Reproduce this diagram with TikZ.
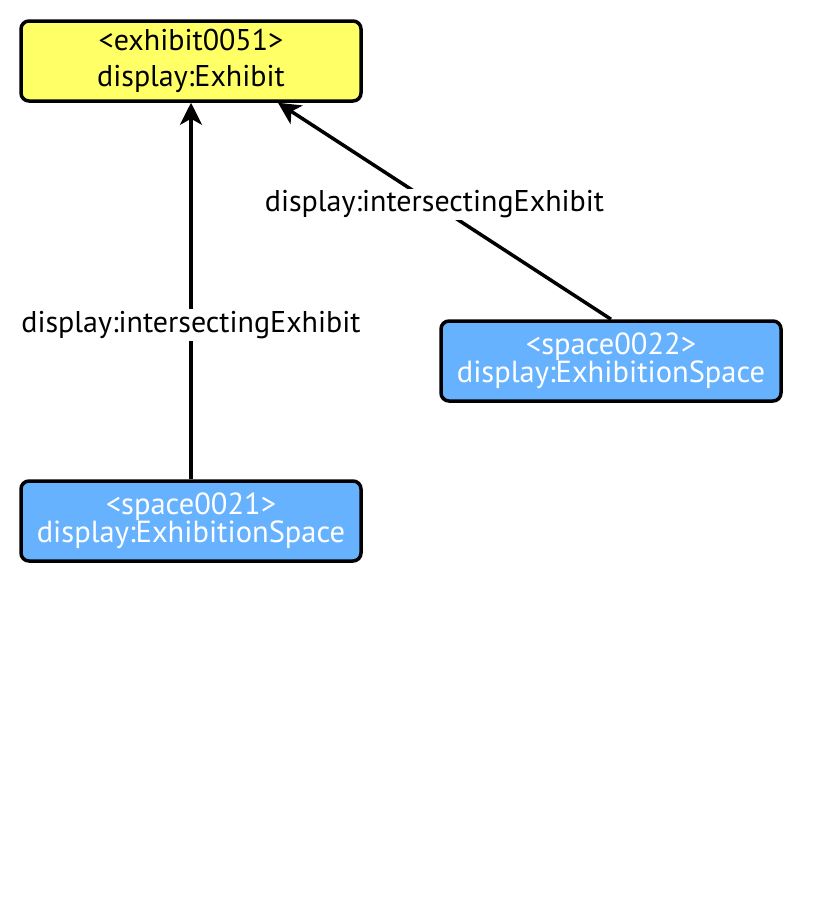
\documentclass[tikz,border=0pt]{standalone}
\usepackage{fontspec}
\setmainfont{PT Sans}
\usetikzlibrary{arrows.meta, positioning, calc}
\definecolor{exhibitfill}{HTML}{FFFF66}
\definecolor{spacefill}{HTML}{66B2FF}

\begin{document}
\begin{tikzpicture}[x=1pt, y=-1pt,
  classbox/.style={draw, line width=3.5pt, rounded corners=8pt, minimum width=340pt, minimum height=80pt, align=center, inner sep=0pt},
  exhibitbox/.style={classbox, fill=exhibitfill, font=\fontsize{30}{36}\selectfont},
  spacebox/.style={classbox, fill=spacefill, text=white, text depth=6pt, font=\fontsize{30.5}{28}\selectfont},
  propline/.style={line width=3.5pt, -{Stealth[length=22pt, width=22pt, inset=6pt]}},
  proplabel/.style={fill=white, inner sep=2pt, font=\fontsize{30}{28}\selectfont}]
\useasboundingbox (0,0) rectangle (815,905);

% Knoten
\node[exhibitbox] (exhibit) at (191,61) {<exhibit0051>\\display:Exhibit};
\node[spacebox] (space22) at (611,361) {<space0022>\\display:ExhibitionSpace};
\node[spacebox] (space21) at (191,521) {<space0021>\\display:ExhibitionSpace};

% Kanten
\draw[propline] (space21.north) -- node[proplabel, pos=0.41] {display:intersectingExhibit} (exhibit.south);
\draw[propline] (space22.north) -- node[proplabel, pos=0.53] {display:intersectingExhibit} ([xshift=87pt]exhibit.south);

\end{tikzpicture}
\end{document}
